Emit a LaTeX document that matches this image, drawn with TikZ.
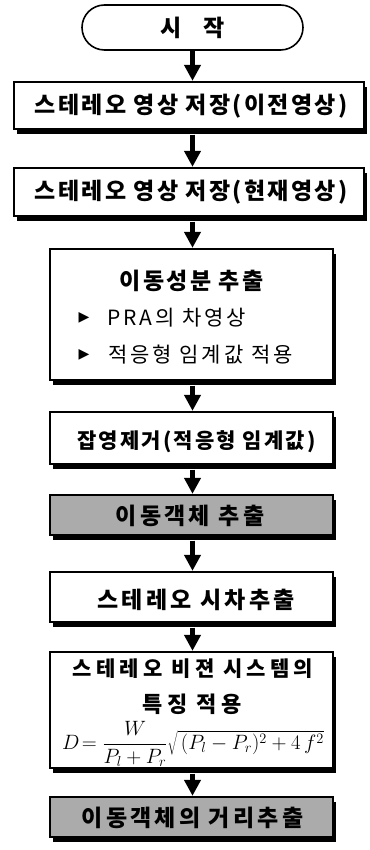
\documentclass[tikz,border=0pt]{standalone}
\usepackage{fontspec}
\usetikzlibrary{arrows.meta,shadows,shapes.misc}
\newfontfamily\kr[LetterSpace=10]{Noto Sans CJK KR}
\newfontfamily\krn[LetterSpace=14]{Noto Sans CJK KR}
\newfontfamily\krw[LetterSpace=20]{Noto Sans CJK KR}
\newfontfamily\dv{DejaVu Sans}
\tikzset{
  fbox/.style={draw, line width=1.3pt, fill=white, inner sep=0pt,
    drop shadow={shadow xshift=3pt, shadow yshift=-5pt, fill=black, opacity=1}},
  gbox/.style={fbox, fill=black!33},
  arr/.style={line width=5pt, -{Triangle[width=16pt,length=16pt]}, shorten >=0.5pt},
  t/.style={inner sep=0pt, font=\kr\bfseries\fontsize{23}{26}\selectfont},
}
\begin{document}
\begin{tikzpicture}[x=1pt,y=-1pt]
\useasboundingbox (0,0) rectangle (369,850);
\node[draw, line width=1.6pt, rounded rectangle, minimum width=221pt, minimum height=45pt, inner sep=0pt,
  font=\kr\bfseries\fontsize{23}{26}\selectfont] (st) at (192.5,27.5) {시\hspace{22pt}작};
\node[fbox, minimum width=350pt, minimum height=47pt] (b1) at (189,105.5) {};
\node[t] (t1) at (191,106) {스테레오 영상 저장(이전영상)};
\node[fbox, minimum width=350pt, minimum height=48pt] (b2) at (189,192) {};
\node[t] (t2) at (191,192.5) {스테레오 영상 저장(현재영상)};
\node[fbox, minimum width=283pt, minimum height=131pt] (b3) at (191.5,314.5) {};
\node[t] (t3a) at (191.5,281) {이동성분 추출};
\node[inner sep=0pt, font=\dv\fontsize{14}{15}\selectfont] (tr1) at (84,318) {▶};
\node[inner sep=0pt, font=\dv\fontsize{14}{15}\selectfont] (tr2) at (84,355) {▶};
\node[inner sep=0pt, anchor=west, font=\krn\fontsize{21}{24}\selectfont] (t3b) at (107,318) {PRA의 차영상};
\node[inner sep=0pt, anchor=west, font=\krn\fontsize{21}{24}\selectfont] (t3c) at (108,355) {적응형 임계값 적용};
\node[fbox, minimum width=283pt, minimum height=52pt] (b4) at (191.5,438) {};
\node[t, font=\kr\bfseries\fontsize{21}{24}\selectfont] (t4) at (196.5,442) {잡영제거(적응형 임계값)};
\node[gbox, minimum width=283pt, minimum height=40pt] (b5) at (191.5,515) {};
\node[t, font=\krn\bfseries\fontsize{23}{26}\selectfont] (t5) at (190,516) {이동객체 추출};
\node[fbox, minimum width=283pt, minimum height=50pt] (b6) at (191.5,597) {};
\node[t, font=\krn\bfseries\fontsize{23}{26}\selectfont] (t6) at (196,600) {스테레오 시차추출};
\node[fbox, minimum width=283pt, minimum height=116pt] (b7) at (191.5,710) {};
\node[t, font=\krw\bfseries\fontsize{21}{24}\selectfont] (t7a) at (193,669) {스테레오 비젼 시스템의};
\node[t, font=\krw\bfseries\fontsize{22}{24}\selectfont] (t7b) at (192,704) {특징 적용};
\node[inner sep=0pt, font=\fontsize{20}{24}\selectfont] (t7c) at (193,744)
  {$\displaystyle D\!=\frac{W}{P_l+P_r}\sqrt{\,(P_l-P_r)^2+4\,f^2}$};
\node[gbox, minimum width=283pt, minimum height=40pt] (b8) at (191.5,817) {};
\node[t, font=\krn\bfseries\fontsize{23}{26}\selectfont] (t8) at (192.5,818) {이동객체의 거리추출};
\draw[arr] (st.south -| st.south) -- (b1.north -| st.south);
\draw[arr] ([yshift=-5pt]b1.south -| st.south) -- (b2.north -| st.south);
\draw[arr] ([yshift=-5pt]b2.south -| st.south) -- (b3.north -| st.south);
\draw[arr] ([yshift=-5pt]b3.south -| st.south) -- (b4.north -| st.south);
\draw[arr] ([yshift=-5pt]b4.south -| st.south) -- (b5.north -| st.south);
\draw[arr] ([yshift=-5pt]b5.south -| st.south) -- (b6.north -| st.south);
\draw[arr] ([yshift=-5pt]b6.south -| st.south) -- (b7.north -| st.south);
\draw[arr] ([yshift=-5pt]b7.south -| st.south) -- (b8.north -| st.south);
\end{tikzpicture}
\end{document}
